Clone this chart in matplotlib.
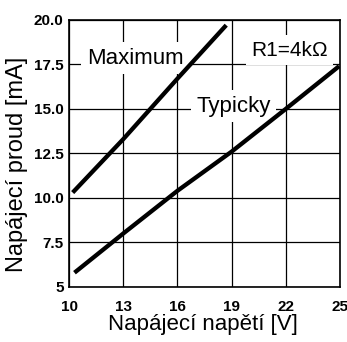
import matplotlib
matplotlib.use('Agg')
import matplotlib.pyplot as plt

# Curves
napeti_max = [10.2, 13.0, 16.0, 18.7]
proud_max = [10.3, 13.3, 16.7, 19.7]

napeti_typ = [10.3, 13.0, 16.0, 19.0, 22.0, 24.95]
proud_typ = [5.8, 8.0, 10.4, 12.6, 15.0, 17.4]

x_ticks = [10, 13, 16, 19, 22, 25]
y_ticks = [5, 7.5, 10, 12.5, 15, 17.5, 20]
y_tick_labels = ['5', '7.5', '10.0', '12.5', '15.0', '17.5', '20.0']

plt.rcParams['font.family'] = ['Liberation Sans', 'DejaVu Sans']

fig = plt.figure(figsize=(3.47, 3.42), dpi=100)
ax = fig.add_axes([0.199, 0.161, 0.781, 0.781])

ax.plot(napeti_max, proud_max, color='black', linewidth=3.1, solid_capstyle='butt', zorder=3)
ax.plot(napeti_typ, proud_typ, color='black', linewidth=3.1, solid_capstyle='butt', zorder=3)

ax.set_xlim(10, 25)
ax.set_ylim(5, 20)
ax.set_xticks(x_ticks)
ax.set_yticks(y_ticks)
ax.set_yticklabels(y_tick_labels)
ax.grid(True, color='black', linewidth=0.9)
ax.tick_params(length=0, labelsize=11, pad=4)
ax.tick_params(axis='x', pad=9.5)
for lab in ax.get_xticklabels() + ax.get_yticklabels():
    lab.set_fontweight('bold')
for s in ax.spines.values():
    s.set_linewidth(1.2)

box = dict(facecolor='white', edgecolor='none', pad=4)
ax.text(13.65, 17.85, 'Maximum', fontsize=16, ha='center', va='center', bbox=box, zorder=2)
ax.text(19.1, 15.15, 'Typicky', fontsize=16, ha='center', va='center', bbox=box, zorder=2)
ax.text(22.2, 18.3, 'R1=4k\u03a9', fontsize=15, ha='center', va='center', bbox=box, zorder=2)

ax.set_xlabel('Napájecí napětí [V]', fontsize=16)
ax.set_ylabel('Napájecí proud [mA]', fontsize=17)
ax.xaxis.set_label_coords(0.495, -0.1)
ax.yaxis.set_label_coords(-0.15, 0.46)

fig.savefig('out.png', dpi=100)
